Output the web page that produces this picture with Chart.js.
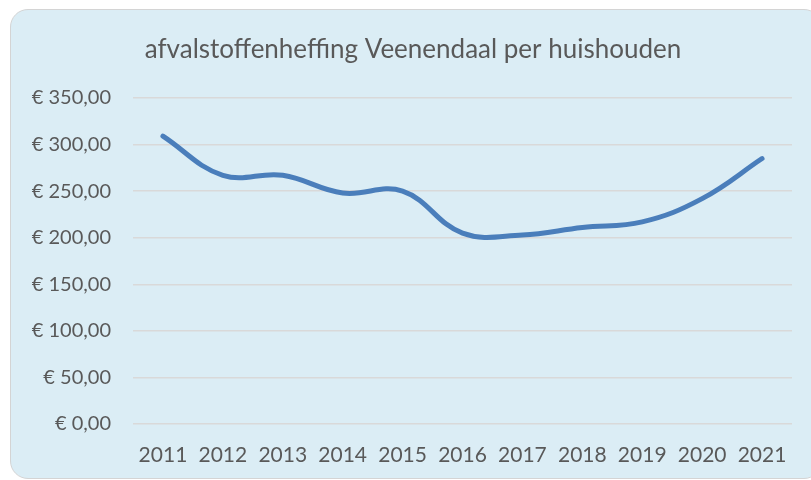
<!DOCTYPE html>
<html>
<head>
<meta charset="utf-8">
<script src="https://cdn.jsdelivr.net/npm/chart.js@4/dist/chart.umd.min.js"></script>
<style>
  html, body { margin: 0; padding: 0; background: #ffffff; }
  #wrap { position: relative; width: 811px; height: 480px; overflow: hidden; }
  #box { position: absolute; left: 10px; top: 9px; width: 812px; height: 470px;
         box-sizing: border-box; border: 1.5px solid #d4d4d4; border-radius: 18px;
         background: #dbedf5; }
  #c { position: absolute; left: 0; top: 0; }
</style>
</head>
<body>
<div id="wrap">
  <div id="box"></div>
  <canvas id="c" width="811" height="480"></canvas>
</div>
<script>
const titleText = 'afvalstoffenheffing Veenendaal per huishouden';
const years = ['2011','2012','2013','2014','2015','2016','2017','2018','2019','2020','2021'];
const heffing = [309, 267, 267, 248, 250, 205, 203, 211, 217, 242, 285];
const yMin = 0;
const yMax = 350;
const yStep = 50;

const textColor = '#595959';
const fontFam = 'Lato, "Open Sans", sans-serif';

function euro(v) {
  return '€ ' + v.toFixed(2).replace('.', ',');
}

const shiftTitle = {
  id: 'shiftTitle',
  afterLayout(chart) {
    if (chart.titleBlock) { chart.titleBlock.left += 24; }
  }
};

new Chart(document.getElementById('c'), {
  type: 'line',
  data: {
    labels: years,
    datasets: [{
      data: heffing,
      borderColor: '#4a7ebb',
      borderWidth: 5,
      borderCapStyle: 'round',
      borderJoinStyle: 'round',
      pointRadius: 0,
      pointHoverRadius: 0,
      fill: false,
      cubicInterpolationMode: 'default',
      tension: 0.4
    }]
  },
  plugins: [shiftTitle],
  options: {
    responsive: false,
    animation: false,
    layout: { padding: { left: 10, right: 19, top: 34, bottom: 10 } },
    plugins: {
      legend: { display: false },
      tooltip: { enabled: false },
      title: {
        display: true,
        text: titleText,
        color: textColor,
        font: { family: fontFam, size: 26, weight: 'normal', lineHeight: 1.2 },
        padding: { top: 0, bottom: 32.8 }
      }
    },
    scales: {
      x: {
        offset: true,
        grid: { display: false, drawTicks: false },
        border: { display: false },
        ticks: {
          color: textColor,
          font: { family: fontFam, size: 21 },
          padding: 19,
          maxRotation: 0,
          autoSkip: false
        },
        afterFit: (s) => { s.height = 46; }
      },
      y: {
        min: yMin,
        max: yMax,
        grid: { color: '#d9d9d9', lineWidth: 1.5, drawTicks: false },
        border: { display: false },
        ticks: {
          stepSize: yStep,
          color: textColor,
          font: { family: fontFam, size: 20 },
          padding: 22,
          callback: (v) => euro(v)
        },
        afterFit: (s) => { s.width = 123; }
      }
    }
  }
});
</script>
</body>
</html>
